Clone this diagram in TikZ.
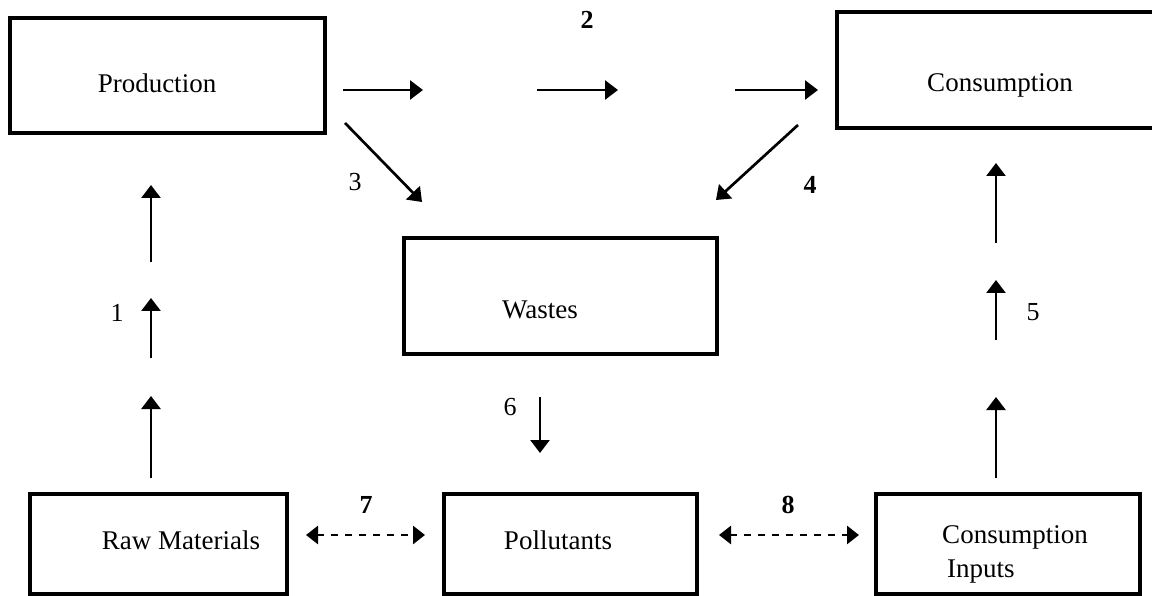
\documentclass[tikz,border=0pt]{standalone}
\usepackage{fontspec}
\setmainfont{Liberation Serif}
\usetikzlibrary{arrows.meta}
\begin{document}
\begin{tikzpicture}[x=1pt,y=-1pt,
  box/.style={draw, line width=4.4pt, inner sep=0pt, rectangle},
  lbl/.style={font=\fontsize{27}{34}\selectfont, inner sep=0pt},
  num/.style={font=\fontsize{26}{30}\selectfont, inner sep=0pt},
  bnum/.style={num, font=\fontsize{26}{30}\selectfont\bfseries},
  flow/.style={line width=2.7pt, -{Triangle[length=13pt,width=19pt]}},
  swap/.style={line width=2.8pt, dash pattern=on 7pt off 7pt,
    {Triangle[length=12pt,width=18pt]}-{Triangle[length=12pt,width=18pt]}},
]
\useasboundingbox (0,0) rectangle (1152,596);

% boxes
\node[box, minimum width=315pt, minimum height=115pt] (prod) at (167.5,75.5) {};
\node[box, minimum width=325pt, minimum height=116pt] (cons) at (999.5,70) {};
\node[box, minimum width=313pt, minimum height=116pt] (waste) at (560.5,296) {};
\node[box, minimum width=257pt, minimum height=100pt] (raw) at (158.5,544) {};
\node[box, minimum width=253pt, minimum height=100pt] (poll) at (570.5,544) {};
\node[box, minimum width=264pt, minimum height=100pt] (cinp) at (1008,544) {};

% box texts
\node[lbl] (prodtext) at (157,83) {Production};
\node[lbl] (constext) at (1000,85) {Consumption};
\node[lbl] (wastetext) at (540,310) {Wastes};
\node[lbl] (rawtext) at (181,540) {Raw Materials};
\node[lbl] (polltext) at (558,540) {Pollutants};
\node[lbl, align=left] (cinptext) at (1015,554) {Consumption\\\hspace{5pt}Inputs};

% arrow end points
\coordinate (h1a) at (343,90);  \coordinate (h1b) at (423,90);
\coordinate (h2a) at (537,90);  \coordinate (h2b) at (618,90);
\coordinate (h3a) at (735,90);  \coordinate (h3b) at (818,90);
\coordinate (d3a) at (345,123); \coordinate (d3b) at (422,202);
\coordinate (d4a) at (798,125); \coordinate (d4b) at (716,200);
\coordinate (l1a) at (151,262); \coordinate (l1b) at (151,185);
\coordinate (l2a) at (151,358); \coordinate (l2b) at (151,298);
\coordinate (l3a) at (151,478); \coordinate (l3b) at (151,396);
\coordinate (r1a) at (996,243); \coordinate (r1b) at (996,163);
\coordinate (r2a) at (996,340); \coordinate (r2b) at (996,280);
\coordinate (r3a) at (996,478); \coordinate (r3b) at (996,397);
\coordinate (w6a) at (540,397); \coordinate (w6b) at (540,453);
\coordinate (s7a) at (306,535); \coordinate (s7b) at (425,535);
\coordinate (s8a) at (719,535); \coordinate (s8b) at (859,535);

% flows
\draw[flow] (h1a) -- (h1b);
\draw[flow] (h2a) -- (h2b);
\draw[flow] (h3a) -- (h3b);
\draw[flow] (d3a) -- (d3b);
\draw[flow] (d4a) -- (d4b);
\draw[flow] (l1a) -- (l1b);
\draw[flow] (l2a) -- (l2b);
\draw[flow] (l3a) -- (l3b);
\draw[flow] (r1a) -- (r1b);
\draw[flow] (r2a) -- (r2b);
\draw[flow] (r3a) -- (r3b);
\draw[flow] (w6a) -- (w6b);
\draw[swap] (s7a) -- (s7b);
\draw[swap] (s8a) -- (s8b);

% flow numbers
\node[num] (n1) at (117,313) {1};
\node[bnum] (n2) at (587,20) {2};
\node[num] (n3) at (355,182) {3};
\node[bnum] (n4) at (810,185) {4};
\node[num] (n5) at (1033,312) {5};
\node[num] (n6) at (510,407) {6};
\node[bnum] (n7) at (366,505) {7};
\node[bnum] (n8) at (788,505) {8};
\end{tikzpicture}
\end{document}
